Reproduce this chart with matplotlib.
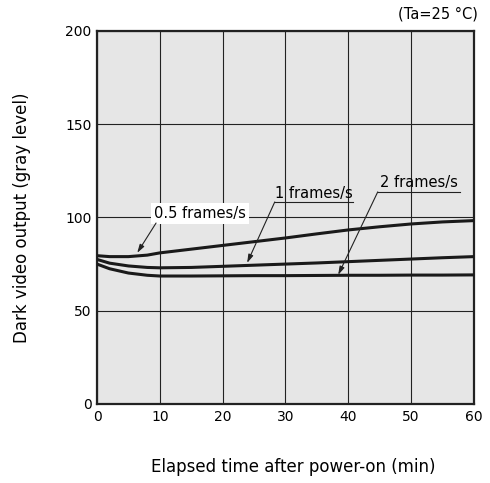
import matplotlib
matplotlib.use('Agg')
import matplotlib.pyplot as plt

# Data
time_min = [0, 2, 5, 8, 10, 15, 20, 25, 30, 35, 40, 45, 50, 55, 60]
out_05fps = [79.5, 79.0, 79.0, 79.8, 81.0, 83.0, 85.0, 87.0, 89.0, 91.2, 93.3, 95.0, 96.5, 97.6, 98.3]
out_1fps = [77.5, 75.5, 74.0, 73.2, 73.0, 73.2, 73.8, 74.4, 75.0, 75.6, 76.3, 77.0, 77.7, 78.4, 79.0]
out_2fps = [75.0, 72.5, 70.2, 69.0, 68.6, 68.6, 68.7, 68.8, 68.8, 68.9, 69.0, 69.0, 69.1, 69.1, 69.2]

x_ticks = [0, 10, 20, 30, 40, 50, 60]
y_ticks = [0, 50, 100, 150, 200]

plt.rcParams['font.family'] = 'DejaVu Sans'
fig = plt.figure(figsize=(4.9, 4.83), dpi=100)
ax = fig.add_axes([0.198, 0.1636, 0.769, 0.7724])
ax.set_facecolor('#e6e6e6')

ax.plot(time_min, out_05fps, color='#1a1a1a', lw=2.2, zorder=3)
ax.plot(time_min, out_1fps, color='#1a1a1a', lw=2.2, zorder=3)
ax.plot(time_min, out_2fps, color='#1a1a1a', lw=2.2, zorder=3)

ax.set_xlim(0, 60)
ax.set_ylim(0, 200)
ax.set_xticks(x_ticks)
ax.set_yticks(y_ticks)
ax.tick_params(length=0, labelsize=10, pad=4)
ax.grid(True, color='#222222', lw=0.8)
ax.set_axisbelow(True)
for s in ax.spines.values():
    s.set_linewidth(1.6)
    s.set_color('#222222')

# axis titles placed in figure coords
fig.text(0.599, 0.033, 'Elapsed time after power-on (min)', fontsize=12, ha='center', va='center')
fig.text(0.045, 0.55, 'Dark video output (gray level)', fontsize=12, ha='center', va='center', rotation=90)

arrow = dict(arrowstyle='-|>,head_length=0.5,head_width=0.15', color='#222222', lw=0.8, shrinkA=0, shrinkB=0)

# 0.5 frames/s label sits on the 100 grid line
ax.text(16.4, 102.0, '0.5 frames/s', fontsize=10.5, ha='center', va='center',
        bbox=dict(facecolor='white', edgecolor='none', pad=2), zorder=4)
ax.annotate('', xy=(6.4, 81.0), xytext=(9.4, 97.0), arrowprops=arrow, zorder=4)

# 1 frames/s
ax.text(34.6, 113.0, '1 frames/s', fontsize=10.5, ha='center', va='center', zorder=4)
ax.plot([28.3, 40.8], [108.3, 108.3], color='#222222', lw=0.8, zorder=4)
ax.annotate('', xy=(23.9, 75.6), xytext=(28.3, 108.3), arrowprops=arrow, zorder=4)

# 2 frames/s
ax.text(51.3, 118.5, '2 frames/s', fontsize=10.5, ha='center', va='center', zorder=4)
ax.plot([44.7, 57.8], [113.7, 113.7], color='#222222', lw=0.8, zorder=4)
ax.annotate('', xy=(38.4, 69.2), xytext=(44.7, 113.7), arrowprops=arrow, zorder=4)

fig.text(0.975, 0.971, '(Ta=25 °C)', fontsize=10.5, ha='right', va='center')

plt.savefig('out.png', dpi=100)
